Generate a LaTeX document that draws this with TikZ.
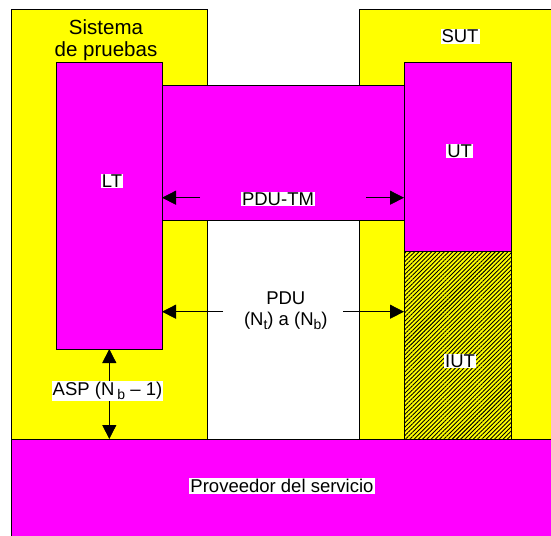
\documentclass[tikz,border=0pt]{standalone}
\usepackage{fontspec}
\setmainfont{Liberation Sans}
\usetikzlibrary{arrows.meta,patterns.meta}
\definecolor{yel}{RGB}{255,255,0}
\definecolor{mag}{RGB}{255,0,255}
\newcommand{\lowsub}[1]{\raisebox{-4pt}{\fontsize{14}{14}\selectfont #1}}
\tikzset{
  ybox/.style={draw=black,fill=yel,line width=0.8pt},
  mbox/.style={draw=black,fill=mag,line width=0.8pt},
  hbox/.style={draw=black,fill=yel,line width=0.8pt,
    postaction={pattern={Lines[angle=45,distance=3pt,line width=0.9pt]},pattern color=black}},
  lbl/.style={fill=white,inner sep=1pt,font=\fontsize{18.5}{21}\selectfont},
  arr/.style={line width=0.8pt,-{Triangle[length=14pt,width=14pt]}},
  darr/.style={line width=0.8pt,{Triangle[length=14pt,width=14pt]}-{Triangle[length=14pt,width=14pt]}}
}
\begin{document}
\begin{tikzpicture}[x=1pt,y=-1pt]
\useasboundingbox (0,0) rectangle (551,535);
\clip (0,0) rectangle (551,535);
\fill[white] (0,0) rectangle (551,535);
% containers
\draw[ybox] (11,9) rectangle (207,439);
\draw[ybox] (359,9) rectangle (560,439);
\draw[mbox] (11,439) rectangle (560,545);
% inner boxes
\draw[mbox] (162,85) rectangle (404,220);
\draw[mbox] (56,62) rectangle (162,349);
\draw[mbox] (404,62) rectangle (511,251);
\draw[hbox] (404,251) rectangle (511,439);
% named anchors for connectors
\coordinate (ltTM) at (162,197.7);
\coordinate (utTM) at (404,197.7);
\coordinate (ltPDU) at (162,311.7);
\coordinate (iutPDU) at (404,311.7);
\coordinate (tmL) at (200,197.7);
\coordinate (tmR) at (366,197.7);
\coordinate (pduL) at (223,311.7);
\coordinate (pduR) at (343,311.7);
\coordinate (aspT) at (109.3,349);
\coordinate (aspB) at (109.3,439);
% labels
\node[font=\fontsize{20.5}{22}\selectfont,align=center,inner sep=0pt] (sis) at (106,40) {Sistema\\de pruebas};
\node[lbl] (sut) at (460,36.5) {SUT};
\node[lbl] (lt) at (112,181) {LT};
\node[lbl] (ut) at (459.7,151) {UT};
\node[lbl] (iut) at (460,361) {IUT};
\node[lbl] (pdutm) at (278,199) {PDU-TM};
\node[lbl,align=center,fill=none] (pdu) at (285.8,311) {PDU\\(N\lowsub{t}) a (N\lowsub{b})};
\node[lbl] (prov) at (282,486) {Proveedor del servicio};
% connectors
\draw[arr] (tmL) -- (ltTM);
\draw[arr] (tmR) -- (utTM);
\draw[arr] (pduL) -- (ltPDU);
\draw[arr] (pduR) -- (iutPDU);
\draw[darr] (aspT) -- (aspB);
\node[lbl] (asp) at (107.5,391) {ASP (N\,\lowsub{b} – 1)};
\end{tikzpicture}
\end{document}
